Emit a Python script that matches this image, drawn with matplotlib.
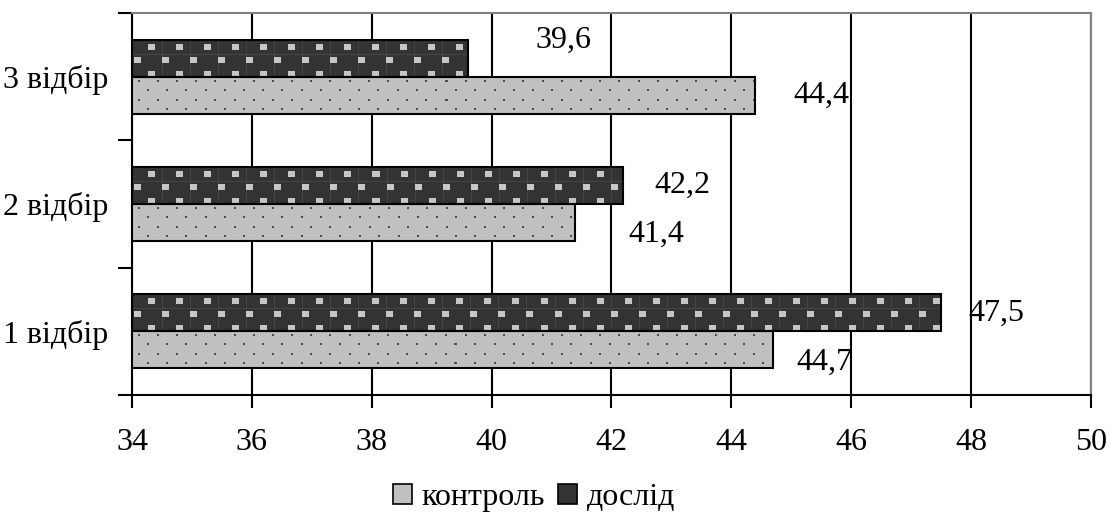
import numpy as np
import matplotlib
matplotlib.use("Agg")
import matplotlib.pyplot as plt
from matplotlib.patches import Patch

plt.rcParams['font.family'] = ['Liberation Serif', 'DejaVu Serif']

cats = ["1 відбір", "2 відбір", "3 відбір"]
kontrol = [44.7, 41.4, 44.4]
doslid = [47.5, 42.2, 39.6]
kontrol_lbl = ["44,7", "41,4", "44,4"]
doslid_lbl = ["47,5", "42,2", "39,6"]

# label placement (offsets from bar end / bar centre, data units)
k_dx = [0.39, 0.88, 0.64]
k_dy = [-0.095, -0.095, 0.0]
d_dx = [0.46, 0.51, 1.14]
d_dy = [0.0, 0.0, 0.14]

light = '#c0c0c0'
dark = '#333333'
h = 0.29
left = 34

fig, ax = plt.subplots(figsize=(11.12, 5.16), dpi=100)
fig.subplots_adjust(left=0.1187, right=0.981, top=0.975, bottom=0.2345)
ax.set_xlim(34, 50)
ax.set_ylim(-0.5, 2.5)

y = np.arange(len(cats))

def texture(wpx, hpx, kind):
    # excel-like fill patterns, drawn pixel by pixel
    if kind == 'light':
        img = np.ones((hpx, wpx, 3)) * 192 / 255
        r = 0
        yy = 3.5
        while yy < hpx - 1:
            off = 6 if r % 2 == 0 else 15.5
            xx = off
            while xx < wpx - 1:
                img[int(yy):int(yy) + 2, int(xx):int(xx) + 2] = 0.3
                xx += 19.2
            yy += 9.3
            r += 1
    else:
        img = np.ones((hpx, wpx, 3)) * 51 / 255
        img[:, 30::28] = 0.27
        img[14::27, :] = 0.27
        r = 0
        yy = 4.0
        while yy < hpx - 1:
            off = 16 if r % 2 == 0 else 2
            xx = off
            while xx < wpx - 1:
                img[int(yy):int(yy) + 6, int(xx):int(xx) + 7] = 0.78
                xx += 28
            yy += 13.5
            r += 1
    return img

def hbar(yy, vals, fc, kind):
    w = np.array(vals) - left
    bars = ax.barh(yy, w, h, left=left, color=fc, edgecolor='none', zorder=3)
    for b in bars:
        x0, y0 = b.get_x(), b.get_y()
        x1, y1 = x0 + b.get_width(), y0 + b.get_height()
        p0 = ax.transData.transform((x0, y0))
        p1 = ax.transData.transform((x1, y1))
        wpx = int(round(p1[0] - p0[0]))
        hpx = int(round(p1[1] - p0[1]))
        ax.imshow(texture(wpx, hpx, kind), extent=(x0, x1, y0, y1), aspect='auto',
                  interpolation='nearest', zorder=4)
    ax.barh(yy, w, h, left=left, fill=False, edgecolor='black', linewidth=1.5, zorder=5)

hbar(y + h / 2, doslid, dark, 'dark')
hbar(y - h / 2, kontrol, light, 'light')

for i in range(len(cats)):
    ax.text(doslid[i] + d_dx[i], y[i] + h / 2 + d_dy[i], doslid_lbl[i],
            fontsize=23, va='center', ha='left', zorder=6)
    ax.text(kontrol[i] + k_dx[i], y[i] - h / 2 + k_dy[i], kontrol_lbl[i],
            fontsize=23, va='center', ha='left', zorder=6)

ax.set_xlim(34, 50)
ax.set_ylim(-0.5, 2.5)
ax.set_xticks(np.arange(34, 51, 2))
ax.set_xticklabels([str(v) for v in range(34, 51, 2)], fontsize=23)
ax.set_yticks(y)
ax.set_yticklabels(cats, fontsize=23)
ax.set_yticks(np.arange(-0.5, 2.6, 1), minor=True)
ax.tick_params(axis='y', which='major', length=0, pad=17)
ax.tick_params(axis='y', which='minor', length=10, width=1.5, direction='out')
ax.tick_params(axis='x', length=9, width=1.5, direction='out', pad=15)

ax.grid(axis='x', color='black', linewidth=1.5, zorder=0)
ax.set_axisbelow(True)
ax.spines['left'].set_linewidth(1.5)
ax.spines['bottom'].set_linewidth(1.5)
ax.spines['top'].set_color('#808080')
ax.spines['right'].set_color('#808080')
ax.spines['top'].set_linewidth(1.5)
ax.spines['right'].set_linewidth(1.5)

handles = [Patch(facecolor=light, edgecolor='black', linewidth=1.2, label='контроль'),
           Patch(facecolor=dark, edgecolor='black', linewidth=1.2, label='дослід')]
fig.legend(handles=handles, loc='center', bbox_to_anchor=(0.48, 0.035), ncol=2,
           frameon=False, fontsize=23, handlelength=0.6, handleheight=0.6,
           handletextpad=0.3, columnspacing=0.4)

fig.savefig("out.png", dpi=100)
